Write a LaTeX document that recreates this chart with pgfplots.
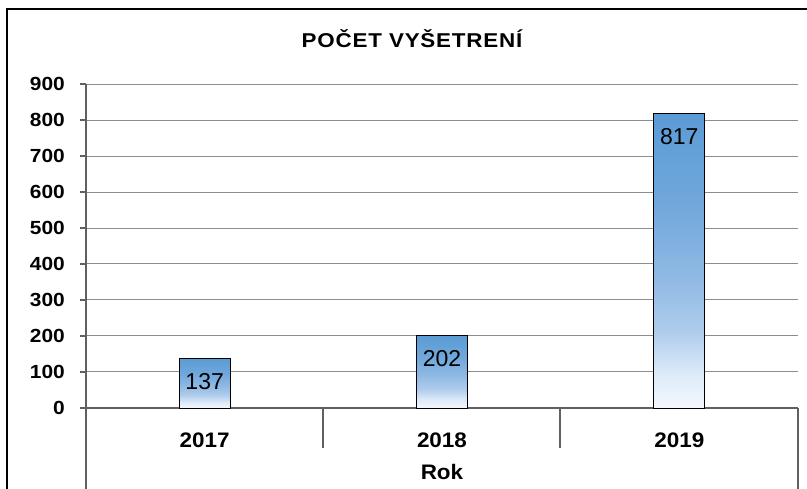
\documentclass[border=0pt]{standalone}
\usepackage{pgfplots}
\pgfplotsset{compat=1.18}
\usepackage{fontspec}
\setmainfont{Liberation Sans}
\newfontfamily\titlefont[LetterSpace=4,FakeStretch=1.12]{Liberation Sans}
\newfontfamily\yfont[FakeStretch=1.1]{Liberation Sans}
\newfontfamily\xfont[FakeStretch=1.07]{Liberation Sans}
\definecolor{c0}{RGB}{244,248,253}
\definecolor{c1}{RGB}{220,234,248}
\definecolor{c2}{RGB}{175,204,236}
\definecolor{c3}{RGB}{141,184,227}
\definecolor{c4}{RGB}{112,167,219}
\definecolor{c5}{RGB}{91,155,213}
\definecolor{gridgray}{RGB}{140,140,140}
\definecolor{axisgray}{RGB}{96,96,96}
\pgfdeclareverticalshading{barshade}{100bp}{color(0bp)=(c0); color(25bp)=(c0); color(31bp)=(c1); color(38bp)=(c2); color(48bp)=(c3); color(60bp)=(c4); color(75bp)=(c5); color(100bp)=(c5)}
\pgfplotsset{barstyle/.style={draw=black, line width=0.8pt, shade, shading=barshade, bar shift=0pt}}
\begin{document}
\begin{tikzpicture}
\path[use as bounding box, clip] (0pt,0pt) rectangle (807pt,489pt);
\begin{axis}[
  at={(86pt,81pt)}, anchor=south west,
  scale only axis, width=712pt, height=324pt,
  ybar, bar width=0.215,
  xmin=-0.5, xmax=2.5, ymin=0, ymax=900,
  xtick={0,1,2}, xticklabels={2017,2018,2019},
  ytick={0,100,...,900},
  /pgf/number format/assume math mode=true,
  axis x line*=bottom, axis y line*=left,
  axis line style={-, draw=axisgray, line width=1.3pt},
  ymajorgrids, major grid style={draw=gridgray, line width=1pt},
  tick align=outside, major tick length=6pt,
  ytick style={draw=axisgray, line width=1.2pt},
  xtick style={draw=none},
  yticklabel style={anchor=east, inner sep=0pt, xshift=-15pt, font=\yfont\fontsize{19}{19}\selectfont\bfseries},
  xticklabel style={anchor=base, inner sep=0pt, yshift=-34pt, font=\xfont\fontsize{21}{21}\selectfont\bfseries},
  xlabel={Rok},
  xlabel style={at={(axis description cs:0.5,0)}, anchor=base, inner sep=0pt, yshift=-72pt, font=\xfont\fontsize{21}{21}\selectfont\bfseries},
  nodes near coords,
  nodes near coords align={below},
  every node near coord/.append style={anchor=north, inner sep=0pt, yshift=-14.5pt, font=\fontsize{23}{23}\selectfont, text=black},
  clip=false,
]
\addplot[barstyle] coordinates {(0,137)};
\addplot[barstyle] coordinates {(1,202)};
\addplot[barstyle] coordinates {(2,817)};
\end{axis}
\draw[axisgray, line width=1.3pt] (86pt,81pt) -- (86pt,0pt);
\draw[axisgray, line width=1.3pt] (798pt,81pt) -- (798pt,0pt);
\draw[axisgray, line width=1.3pt] (323pt,81pt) -- (323pt,41pt);
\draw[axisgray, line width=1.3pt] (560pt,81pt) -- (560pt,41pt);
\draw[black, line width=1.5pt] (7pt,-20pt) rectangle (830pt,480pt);
\node[anchor=base, inner sep=0pt, font=\titlefont\fontsize{20}{20}\selectfont\bfseries] at (412pt,441pt) {POČET VYŠETRENÍ};
\end{tikzpicture}
\end{document}
